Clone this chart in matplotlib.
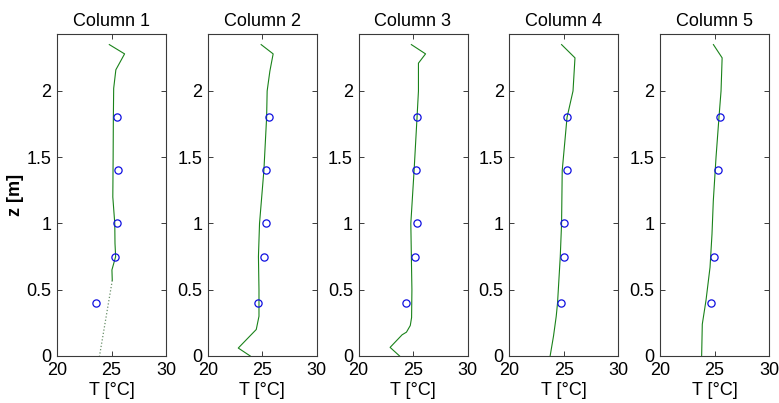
import numpy as np
import matplotlib
matplotlib.use("Agg")
import matplotlib.pyplot as plt

plt.rcParams['font.family'] = ['Liberation Sans', 'DejaVu Sans']

titles = ["Column 1", "Column 2", "Column 3", "Column 4", "Column 5"]

z_obs = [1.8, 1.4, 1.0, 0.75, 0.4]
obs_T = [
    [25.48, 25.57, 25.55, 25.35, 23.55],
    [25.65, 25.33, 25.30, 25.20, 24.65],
    [25.37, 25.28, 25.37, 25.19, 24.35],
    [25.30, 25.30, 25.02, 25.05, 24.74],
    [25.50, 25.35, np.nan, 24.93, 24.71],
]

model_z = [
    [2.35, 2.28, 2.16, 2.02, 1.8, 1.5, 1.2, 1.0, 0.85, 0.75, 0.65, 0.57],
    [2.35, 2.28, 2.15, 2.0, 1.8, 1.4, 1.0, 0.75, 0.5, 0.3, 0.2, 0.06, 0.0],
    [2.35, 2.28, 2.21, 2.0, 1.8, 1.4, 1.0, 0.75, 0.5, 0.29, 0.23, 0.18, 0.16, 0.065, 0.0],
    [2.35, 2.25, 2.0, 1.8, 1.4, 1.0, 0.75, 0.4, 0.3, 0.15, 0.0],
    [2.35, 2.25, 2.0, 1.8, 1.5, 1.17, 0.92, 0.67, 0.42, 0.24, 0.0],
]
model_T = [
    [24.8, 26.2, 25.4, 25.2, 25.17, 25.15, 25.12, 25.3, 25.32, 25.38, 25.04, 25.07],
    [24.9, 26.0, 25.7, 25.45, 25.4, 25.15, 24.75, 24.65, 24.7, 24.7, 24.45, 22.8, 23.9],
    [24.85, 26.15, 25.5, 25.5, 25.37, 25.1, 24.8, 24.85, 24.9, 24.87, 24.75, 24.4, 24.0, 22.9, 23.77],
    [24.8, 26.03, 25.85, 25.3, 24.86, 24.8, 24.68, 24.43, 24.31, 24.06, 23.75],
    [24.9, 25.7, 25.6, 25.41, 25.14, 24.89, 24.77, 24.59, 24.22, 23.88, 23.82],
]
# extrapolated (dotted) part in column 1
dotted_z = [0.57, 0.0]
dotted_T = [25.07, 23.9]

xticks = [20, 25, 30]
yticks = [0, 0.5, 1, 1.5, 2]

W, H = 779, 403
fig = plt.figure(figsize=(W / 100, H / 100), dpi=100)

green = '#1a821a'
axcol = '#3a3a3a'
fs = 13
for i in range(5):
    left = 57 + i * 150.75
    ax = fig.add_axes([left / W, (H - 356) / H, 109 / W, 322 / H])
    ax.plot(model_T[i], model_z[i], '-', color=green, lw=0.8)
    if i == 0:
        ax.plot(dotted_T, dotted_z, ':', color='#6a8f6a', lw=0.9)
    ax.plot(obs_T[i], z_obs, 'o', mfc='none', mec='#1010e0', ms=5.2, mew=0.9)
    ax.set_xlim(20, 30)
    ax.set_ylim(0, 2.43)
    ax.set_xticks(xticks)
    ax.set_xticklabels([str(t) for t in xticks])
    ax.set_yticks(yticks)
    ax.set_yticklabels(['0', '0.5', '1', '1.5', '2'])
    ax.tick_params(direction='in', length=3.5, width=0.7, color=axcol,
                   top=True, right=True, labelsize=fs, pad=4)
    ax.tick_params(axis='x', pad=4.5)
    for s in ax.spines.values():
        s.set_color(axcol)
        s.set_linewidth(0.8)
    ax.set_title(titles[i], fontsize=fs, pad=6)
    ax.set_xlabel('T [°C]', fontsize=fs, labelpad=2)
    if i == 0:
        ax.set_ylabel('z [m]', fontsize=fs, fontweight='bold', labelpad=2)

fig.savefig('out.png', dpi=100)
